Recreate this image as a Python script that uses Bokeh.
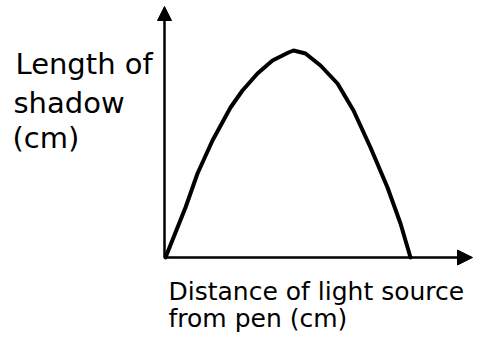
from bokeh.plotting import figure
from bokeh.models import Range1d, Arrow, NormalHead, Label
from bokeh.embed import file_html
from bokeh.resources import INLINE

# Data (arbitrary units)
distance = [0, 20, 32, 47, 65, 77, 92, 107, 123, 128, 140, 155, 172, 188, 205, 222, 235, 245]
shadow_length = [0, 50, 84, 117, 150, 167, 184, 197, 205, 207, 204, 192, 174, 147, 110, 70, 34, 0]

y_label_lines = ["Length of", "shadow", "(cm)"]
x_label_lines = ["Distance of light source", "from pen (cm)"]

p = figure(width=474, height=333, output_backend="svg", toolbar_location=None,
           x_range=Range1d(-165, 309), y_range=Range1d(-76, 257),
           x_axis_location=None, y_axis_location=None, min_border=0)
p.grid.visible = False
p.outline_line_color = None
p.background_fill_color = "white"
p.border_fill_color = "white"

# axes with arrowheads
p.add_layout(Arrow(x_start=-1, y_start=0, x_end=-1, y_end=251, line_width=2.5, line_color="black",
                   end=NormalHead(size=14, fill_color="black", line_color="black"), start=None))
p.add_layout(Arrow(x_start=-1, y_start=0, x_end=307, y_end=0, line_width=2.5, line_color="black",
                   end=NormalHead(size=15, fill_color="black", line_color="black"), start=None))

p.line(distance, shadow_length, line_width=4, line_color="black", line_join="round", line_cap="round")

for txt, x, y in zip(y_label_lines, [-150, -152, -153], [194, 155, 120]):
    p.add_layout(Label(x=x, y=y, text=txt, text_font="DejaVu Sans", text_font_size="29px",
                       text_color="black", text_baseline="alphabetic", text_align="left"))
for txt, x, y in zip(x_label_lines, [3, 3], [-34, -61]):
    p.add_layout(Label(x=x, y=y, text=txt, text_font="DejaVu Sans", text_font_size="25px",
                       text_color="black", text_baseline="alphabetic", text_align="left"))

open("out.html", "w").write(file_html(p, INLINE))
